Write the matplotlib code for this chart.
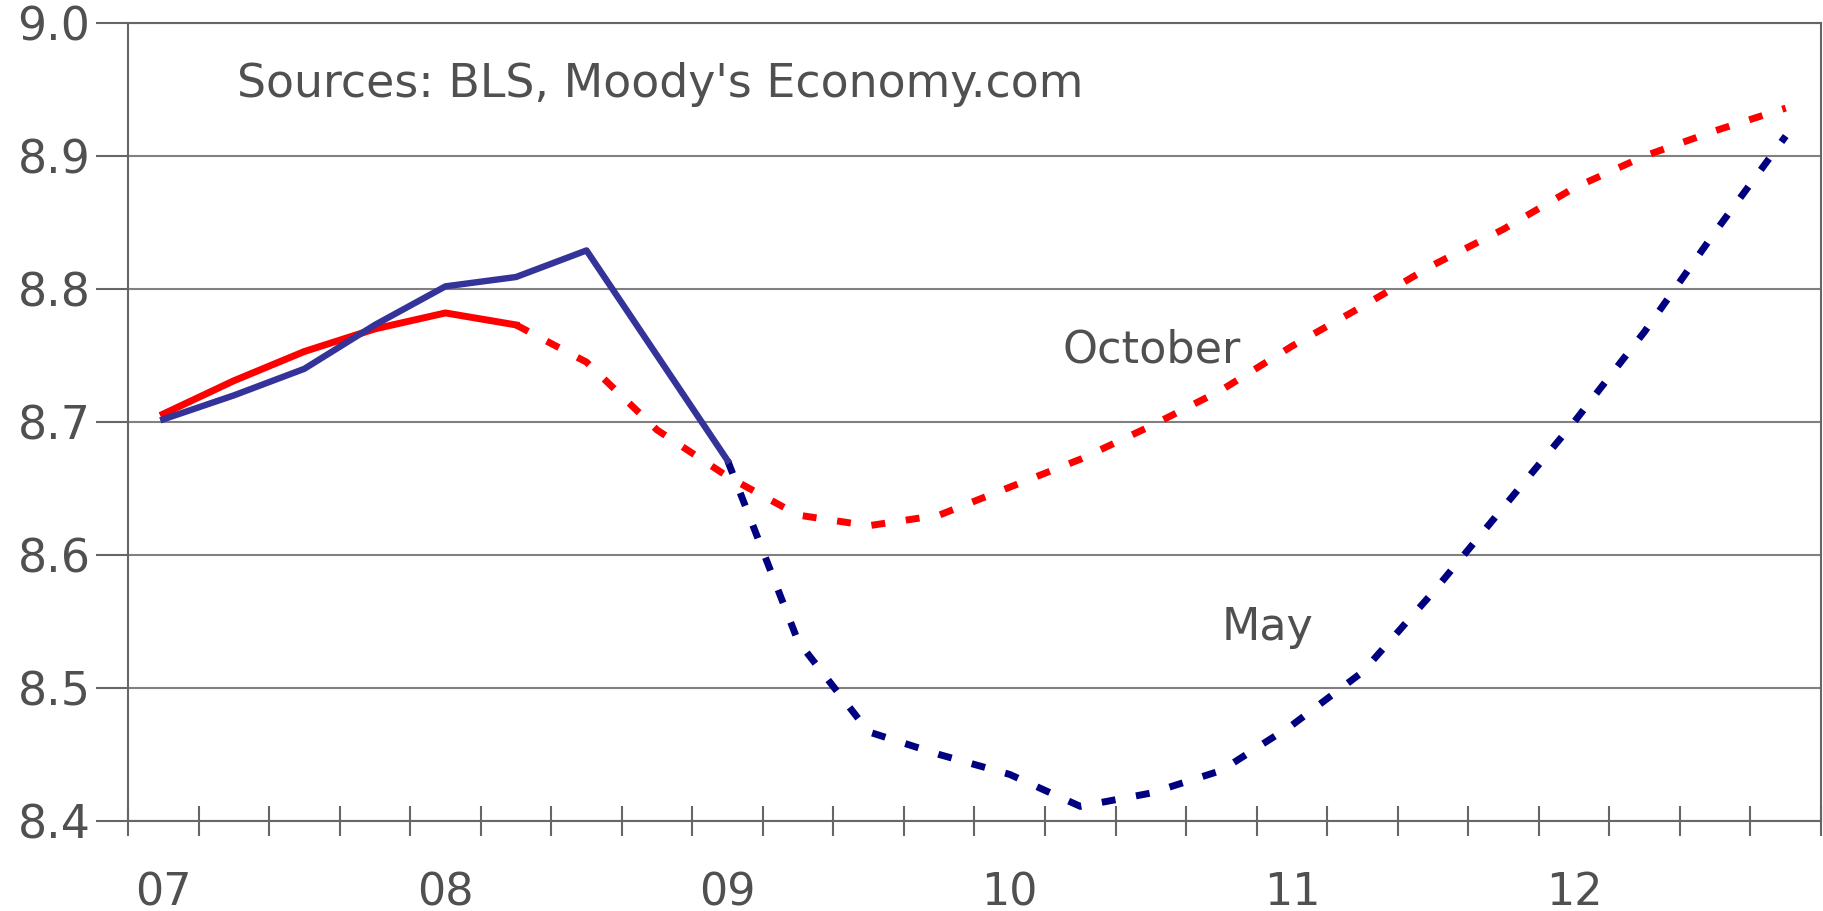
import numpy as np
import matplotlib.pyplot as plt

# quarters 2007Q1 .. 2012Q4
quarters = list(range(24))
year_labels = ['07', '08', '09', '10', '11', '12']

# October vintage: history then forecast
oct_hist = [8.706, 8.731, 8.753, 8.770, 8.782, 8.773]
oct_fcst = [8.773, 8.745, 8.694, 8.659, 8.630, 8.622, 8.630, 8.651, 8.672,
            8.697, 8.724, 8.757, 8.787, 8.818, 8.845, 8.876, 8.900, 8.919, 8.936]

# May vintage: history then forecast
may_hist = [8.702, 8.720, 8.740, 8.773, 8.802, 8.809, 8.829, 8.750, 8.671]
may_fcst = [8.671, 8.535, 8.467, 8.450, 8.435, 8.411, 8.421, 8.438, 8.472,
            8.512, 8.572, 8.636, 8.700, 8.768, 8.843, 8.915]

gray = '#505050'
axc = '#666666'

fig = plt.figure(figsize=(18.24, 9.11), dpi=100)
ax = fig.add_axes([128/1824, 1-821/911, (1821-128)/1824, (821-23)/911])

x_oh = quarters[:len(oct_hist)]
x_of = quarters[len(oct_hist)-1:]
x_mh = quarters[:len(may_hist)]
x_mf = quarters[len(may_hist)-1:]

ax.plot(x_of, oct_fcst, color='#ff0000', lw=5, dashes=(2.0, 3.0), zorder=3)
ax.plot(x_oh, oct_hist, color='#ff0000', lw=5, zorder=4)
ax.plot(x_mf, may_fcst, color='#000080', lw=5, dashes=(2.0, 3.0), zorder=3)
ax.plot(x_mh, may_hist, color='#333399', lw=4.6, zorder=5)

ax.set_xlim(-0.5, 23.5)
ax.set_ylim(8.4, 9.0)

ax.set_yticks(np.arange(8.4, 9.01, 0.1))
ax.set_yticklabels(['%.1f' % v for v in np.arange(8.4, 9.01, 0.1)])
ax.tick_params(axis='y', direction='out', length=23, width=1.5, color=axc,
               labelsize=33, labelcolor=gray, pad=4)

ax.set_xticks(quarters[::4])
ax.set_xticklabels(year_labels)
ax.set_xticks(np.arange(-0.5, 24, 1), minor=True)
ax.tick_params(axis='x', which='major', length=0, labelsize=32,
               labelcolor=gray, pad=36)
ax.tick_params(axis='x', which='minor', direction='inout', length=21.6,
               width=1.5, color=axc)

ax.yaxis.grid(True, color='#808080', lw=1.5)
ax.set_axisbelow(True)
for s in ax.spines.values():
    s.set_color(axc)
    s.set_linewidth(1.5)

ax.text(1.05, 8.944, "Sources: BLS, Moody's Economy.com", fontsize=33,
        color=gray, ha='left', va='baseline')
ax.text(14.01, 8.7445, 'October', fontsize=32, color=gray, ha='center',
        va='baseline')
ax.text(15.65, 8.536, 'May', fontsize=32, color=gray, ha='center',
        va='baseline')

fig.savefig('out.png', dpi=100)
